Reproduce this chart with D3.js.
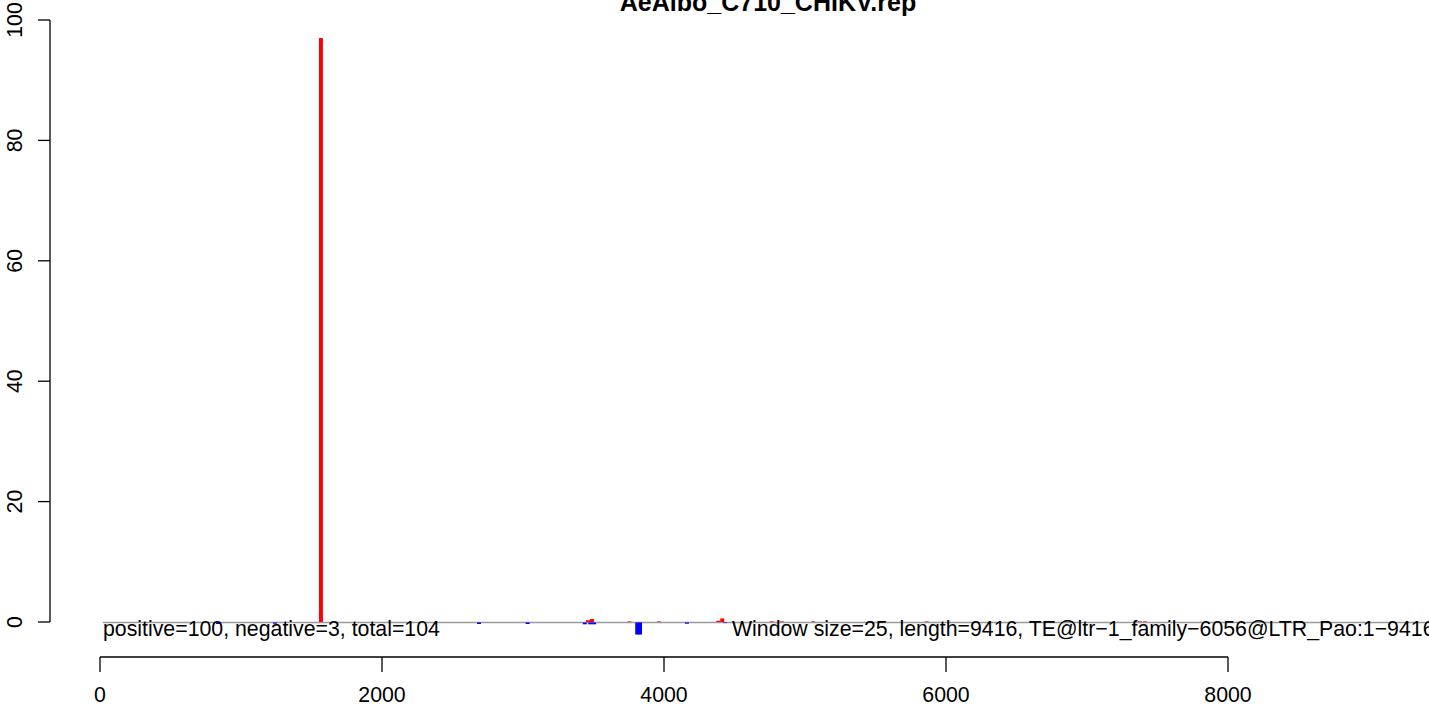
<!DOCTYPE html>
<html>
<head>
<meta charset="utf-8">
<script src="https://cdn.jsdelivr.net/npm/d3@7"></script>
<style>
  html, body { margin: 0; padding: 0; background: #fff; }
  svg { display: block; font-family: "Liberation Sans", Arial, sans-serif; }
</style>
</head>
<body>
<svg id="chart" width="1429" height="706"></svg>
<script>
// ---- data ----
const titleText = "AeAlbo_C710_CHIKV.rep";
const leftNote = "positive=100, negative=3, total=104";
const rightNote = "Window size=25, length=9416, TE@ltr\u22121_family\u22126056@LTR_Pao:1\u22129416";

// positive (red) window centres and counts
const posX = [1567, 3461, 3489, 3755, 3965, 4385, 4413, 4764, 4835, 5057, 5863, 7376, 7411];
const posY = [97, 0.3, 0.5, 0.1, 0.1, 0.2, 0.6, 0.1, 0.1, 0.1, 0.1, 0.1, 0.1];
// negative (blue) window centres and counts
const negX = [837, 1241, 2688, 3033, 3438, 3477, 3504, 3810, 3830, 4163, 4433];
const negY = [-0.25, -0.2, -0.25, -0.25, -0.3, -0.3, -0.3, -2, -2, -0.2, -0.1];

const xTicks = [0, 2000, 4000, 6000, 8000];
const yTicks = [0, 20, 40, 60, 80, 100];

// ---- layout ----
const svg = d3.select("#chart");
const x = d3.scaleLinear().domain([0, 8000]).range([100, 1228]);
const y = d3.scaleLinear().domain([0, 100]).range([622, 20]);
const barW = x(28) - x(0);
const fontPx = 21.3;

// title
svg.append("text")
  .attr("x", 768).attr("y", 11)
  .attr("text-anchor", "middle")
  .attr("font-weight", "bold")
  .attr("font-size", 25)
  .text(titleText);

// zero line
svg.append("line")
  .attr("x1", x(20)).attr("x2", 1429)
  .attr("y1", y(0) + 0.5).attr("y2", y(0) + 0.5)
  .attr("stroke", "#9a9a9a").attr("stroke-width", 1.5);

// bars
svg.append("g").selectAll("rect.pos")
  .data(posX.map((d, i) => ({ x: d, v: posY[i] })))
  .join("rect")
  .attr("x", d => x(d.x) - barW / 2)
  .attr("width", barW)
  .attr("y", d => y(d.v))
  .attr("height", d => y(0) - y(d.v))
  .attr("fill", "#ff0000");

svg.append("g").selectAll("rect.neg")
  .data(negX.map((d, i) => ({ x: d, v: negY[i] })))
  .join("rect")
  .attr("x", d => x(d.x) - barW / 2)
  .attr("width", barW)
  .attr("y", y(0) + 0.5)
  .attr("height", d => y(d.v) - y(0))
  .attr("fill", "#0000ff");

// notes
svg.append("text")
  .attr("x", 103).attr("y", 636)
  .attr("font-size", fontPx)
  .text(leftNote);
svg.append("text")
  .attr("x", 732).attr("y", 636)
  .attr("font-size", fontPx)
  .text(rightNote);

// y axis
const yAxis = svg.append("g").attr("transform", "translate(50,0)");
yAxis.append("line")
  .attr("x1", 0).attr("x2", 0)
  .attr("y1", y(100)).attr("y2", y(0))
  .attr("stroke", "#000").attr("stroke-width", 1.3);
yAxis.selectAll("line.tick").data(yTicks).join("line")
  .attr("x1", -12).attr("x2", 0)
  .attr("y1", d => y(d)).attr("y2", d => y(d))
  .attr("stroke", "#000").attr("stroke-width", 1.3);
yAxis.selectAll("text").data(yTicks).join("text")
  .attr("transform", d => `translate(-28,${y(d)}) rotate(-90)`)
  .attr("text-anchor", "middle")
  .attr("font-size", fontPx)
  .text(d => d);

// x axis
const xAxis = svg.append("g").attr("transform", "translate(0,657)");
xAxis.append("line")
  .attr("x1", x(0)).attr("x2", x(8000))
  .attr("y1", 0).attr("y2", 0)
  .attr("stroke", "#000").attr("stroke-width", 1.3);
xAxis.selectAll("line.tick").data(xTicks).join("line")
  .attr("x1", d => x(d)).attr("x2", d => x(d))
  .attr("y1", 0).attr("y2", 15)
  .attr("stroke", "#000").attr("stroke-width", 1.3);
xAxis.selectAll("text").data(xTicks).join("text")
  .attr("x", d => x(d)).attr("y", 45)
  .attr("text-anchor", "middle")
  .attr("font-size", fontPx)
  .text(d => d);
</script>
</body>
</html>
